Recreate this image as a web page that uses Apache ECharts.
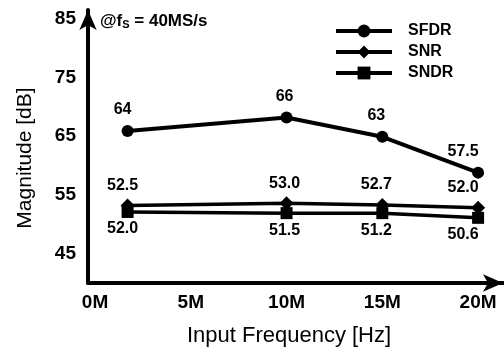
<!DOCTYPE html>
<html>
<head>
<meta charset="utf-8">
<script src="https://cdn.jsdelivr.net/npm/echarts@6/dist/echarts.min.js"></script>
<style>html,body{margin:0;padding:0;background:#fff}#c{width:504px;height:352px}</style>
</head>
<body>
<div id="c"></div>
<script>
// Data
const freqs = [1.7, 10, 15, 20];            // input frequency in MHz
const sfdr = [65.9, 68.2, 64.9, 58.8];       // plotted positions
const snr = [53.2, 53.6, 53.3, 52.8];
const sndr = [52.1, 51.9, 51.9, 51.1];
const sfdrLabels = ['64', '66', '63', '57.5'];
const snrLabels = ['52.5', '53.0', '52.7', '52.0'];
const sndrLabels = ['52.0', '51.5', '51.2', '50.6'];
const xTickValues = [0, 5, 10, 15, 20];
const xTickLabels = ['0M', '5M', '10M', '15M', '20M'];
const yTickValues = [45, 55, 65, 75, 85];
const yTickLabels = ['45', '55', '65', '75', '85'];

const FONT = '"Liberation Sans", Arial, sans-serif';
const labelShift = [-5, -2, -6, -15];

function mkData(vals, labels, pos, dist) {
  return vals.map((v, i) => ({
    value: [freqs[i], v],
    label: { show: true, position: pos, distance: dist, offset: [labelShift[i], 0], formatter: labels[i] }
  }));
}

const chart = echarts.init(document.getElementById('c'), null, { renderer: 'canvas' });
const labelStyle = { color: '#000', fontFamily: FONT, fontWeight: 'bold', fontSize: 16 };
chart.setOption({
  animation: false,
  backgroundColor: '#fff',
  grid: { left: 88, right: 1, top: 10, bottom: 69, containLabel: false },
  legend: {
    orient: 'vertical', left: 329, top: 18, itemWidth: 56, itemHeight: 16, itemGap: 5,
    lineStyle: { width: 4 },
    textStyle: { color: '#000', fontFamily: FONT, fontWeight: 'bold', fontSize: 16, padding: [0, 0, 0, 11] },
    data: ['SFDR', 'SNR', 'SNDR']
  },
  xAxis: {
    type: 'value', min: -0.366, max: 21.3,
    axisLine: { show: true, onZero: false, lineStyle: { color: '#000', width: 4 }, symbol: ['none', 'arrow'], symbolSize: [13, 20] },
    axisTick: { show: false },
    splitLine: { show: false },
    axisLabel: {
      customValues: xTickValues, margin: 10,
      formatter: v => xTickLabels[xTickValues.indexOf(v)],
      color: '#000', fontFamily: FONT, fontWeight: 'bold', fontSize: 19
    }
  },
  yAxis: {
    type: 'value', min: 40, max: 86.5,
    axisLine: { show: true, onZero: false, lineStyle: { color: '#000', width: 4 }, symbol: ['none', 'arrow'], symbolSize: [13, 20] },
    axisTick: { show: false },
    splitLine: { show: false },
    axisLabel: {
      customValues: yTickValues, margin: 12,
      formatter: v => yTickLabels[yTickValues.indexOf(v)],
      color: '#000', fontFamily: FONT, fontWeight: 'bold', fontSize: 19
    }
  },
  series: [
    {
      name: 'SFDR', type: 'line', symbol: 'circle', symbolSize: 12,
      lineStyle: { color: '#000', width: 4 }, itemStyle: { color: '#000' },
      label: labelStyle,
      data: mkData(sfdr, sfdrLabels, 'top', 7)
    },
    {
      name: 'SNR', type: 'line', symbol: 'diamond', symbolSize: 14,
      lineStyle: { color: '#000', width: 3.5 }, itemStyle: { color: '#000' },
      label: labelStyle,
      data: mkData(snr, snrLabels, 'top', 5)
    },
    {
      name: 'SNDR', type: 'line', symbol: 'rect', symbolSize: 12,
      lineStyle: { color: '#000', width: 3.5 }, itemStyle: { color: '#000' },
      label: labelStyle,
      data: mkData(sndr, sndrLabels, 'bottom', 3)
    }
  ],
  graphic: [
    {
      type: 'text', left: 100, top: 13,
      style: {
        text: '{a|@f}{s|S}{a| = 40MS/s}',
        rich: {
          a: { fontFamily: FONT, fontWeight: 'bold', fontSize: 17, fill: '#000', verticalAlign: 'bottom' },
          s: { fontFamily: FONT, fontWeight: 'bold', fontSize: 11, fill: '#000', verticalAlign: 'bottom' }
        }
      }
    },
    {
      type: 'text', x: 289, y: 336,
      style: { text: 'Input Frequency [Hz]', fontFamily: FONT, fontSize: 22, fill: '#000', align: 'center', verticalAlign: 'middle' }
    },
    {
      type: 'text', x: 25, y: 158, rotation: Math.PI / 2,
      style: { text: 'Magnitude [dB]', fontFamily: FONT, fontSize: 21, fill: '#000', align: 'center', verticalAlign: 'middle' }
    }
  ]
});
</script>
</body>
</html>
